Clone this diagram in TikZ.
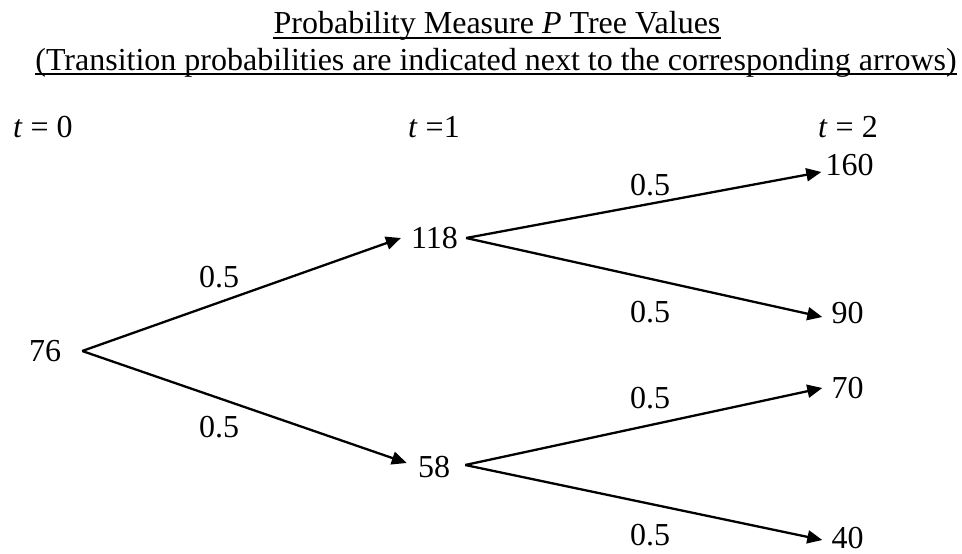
\documentclass[tikz,border=0pt]{standalone}
\usepackage{fontspec}
\setmainfont{Liberation Serif}
\usetikzlibrary{arrows.meta}
\begin{document}
\begin{tikzpicture}[x=1pt,y=-1pt,
  every node/.style={font=\fontsize{32}{38}\selectfont, inner sep=0pt},
  conn/.style={line width=2.3pt, -{Triangle[length=15pt,width=13pt]}},
  uline/.style={line width=2pt}]
\useasboundingbox (0,0) rectangle (962,554);
% titles
\node[anchor=base] (title1) at (497,34) {Probability Measure \textit{P} Tree Values};
\node[anchor=base] (title2) at (496,70) {(Transition probabilities are indicated next to the corresponding arrows)};
\draw[uline] ([yshift=-3.5pt]title1.base west) -- ([yshift=-3.5pt]title1.base east);
\draw[uline] ([yshift=-3.5pt]title2.base west) -- ([yshift=-3.5pt]title2.base east);
% time labels
\node[anchor=base west] (t0) at (13,137) {\textit{t} = 0};
\node[anchor=base west] (t1) at (408,137) {\textit{t} =1};
\node[anchor=base west] (t2) at (818,137) {\textit{t} = 2};
% values
\node (n76) at (45,351) {76};
\node (n118) at (434.5,238) {118};
\node (n58) at (434,467) {58};
\node (n160) at (849.5,165) {160};
\node (n90) at (847.5,313) {90};
\node (n70) at (847.5,388) {70};
\node (n40) at (847.5,538) {40};
% connectors
\draw[conn] ([xshift=21pt]n76.east) -- ([xshift=-10pt]n118.west);
\draw[conn] ([xshift=21pt]n76.east) -- ([xshift=-11pt,yshift=4pt]n58.west);
\draw[conn] ([xshift=8pt]n118.east) -- ([xshift=-4pt,yshift=-7pt]n160.west);
\draw[conn] ([xshift=8pt]n118.east) -- ([xshift=-9pt,yshift=-4pt]n90.west);
\draw[conn] ([xshift=15pt,yshift=2pt]n58.east) -- ([xshift=-9pt]n70.west);
\draw[conn] ([xshift=15pt,yshift=2pt]n58.east) -- ([xshift=-9pt,yshift=-2pt]n40.west);
% probabilities
\node (p1) at (219,277) {0.5};
\node (p2) at (219,427) {0.5};
\node (p3) at (650,185) {0.5};
\node (p4) at (650,312) {0.5};
\node (p5) at (650,398) {0.5};
\node (p6) at (650,535) {0.5};
\end{tikzpicture}
\end{document}
